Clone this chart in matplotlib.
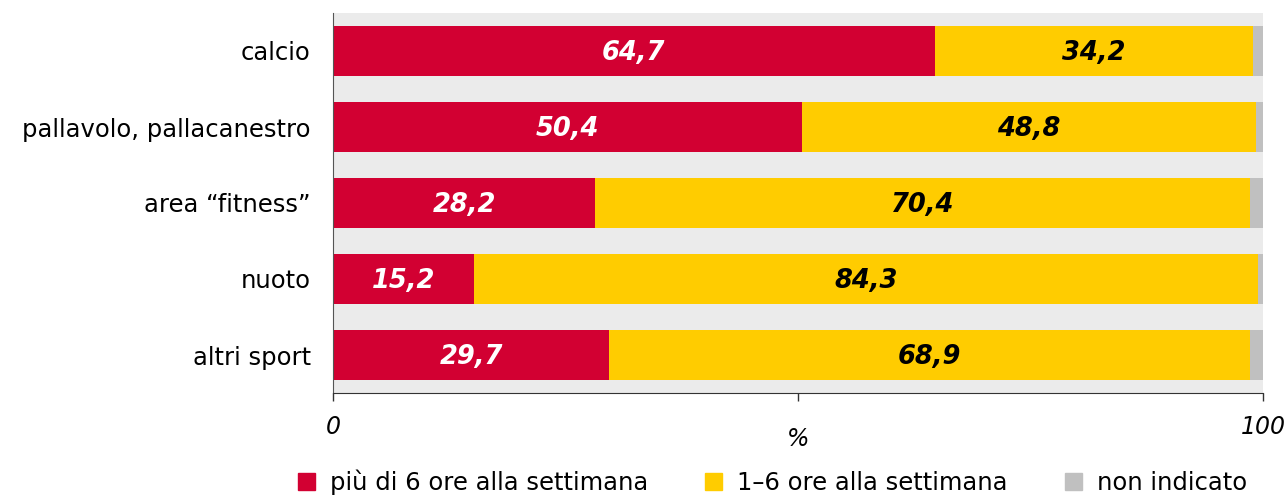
import matplotlib.pyplot as plt
from matplotlib.patches import Patch

# data (percent)
categories = ["calcio", "pallavolo, pallacanestro", "area \u201cfitness\u201d", "nuoto", "altri sport"]
over_6 = [64.7, 50.4, 28.2, 15.2, 29.7]
one_to_6 = [34.2, 48.8, 70.4, 84.3, 68.9]
not_given = [1.1, 0.8, 1.4, 0.5, 1.4]
series_names = ["più di 6 ore alla settimana", "1\u20136 ore alla settimana", "non indicato"]

RED = "#D20032"
YELLOW = "#FFCC00"
GREY = "#C0C0C0"

plt.rcParams['font.family'] = ['DejaVu Sans']

fig = plt.figure(figsize=(12.87, 4.97), dpi=100)
ax = fig.add_axes([333 / 1287, 104 / 497, 930 / 1287, 380 / 497])
ax.set_facecolor("#EBEBEB")

ypos = list(range(len(categories)))
h = 0.66
left2 = over_6
left3 = [a + b for a, b in zip(over_6, one_to_6)]
ax.barh(ypos, over_6, height=h, color=RED)
ax.barh(ypos, one_to_6, left=left2, height=h, color=YELLOW)
ax.barh(ypos, not_given, left=left3, height=h, color=GREY)

# value labels
for i in ypos:
    ax.text(over_6[i] / 2, i + 0.03, f"{over_6[i]:.1f}".replace(".", ","), color="white",
            ha="center", va="center", fontsize=18.5, fontweight="bold", fontstyle="italic")
    ax.text(over_6[i] + one_to_6[i] / 2, i + 0.03, f"{one_to_6[i]:.1f}".replace(".", ","), color="black",
            ha="center", va="center", fontsize=18.5, fontweight="bold", fontstyle="italic")

ax.set_xlim(0, 100)
ax.set_ylim(len(categories) - 0.5, -0.5)
ax.set_yticks(ypos)
ax.set_yticklabels(categories, fontsize=17.5)
ax.tick_params(axis="y", length=0, pad=16)

ax.set_xticks([0, 50, 100])
ax.set_xticklabels(["0", "", "100"], fontsize=17, fontstyle="italic")
ax.tick_params(axis="x", length=6, width=1, color="#333333", pad=10, direction="out")
ax.set_xlabel("%", fontsize=17, fontstyle="italic", labelpad=-9)

for s in ["top", "right"]:
    ax.spines[s].set_visible(False)
ax.spines["left"].set_color("#555555")
ax.spines["bottom"].set_color("#333333")

handles = [Patch(color=RED), Patch(color=YELLOW), Patch(color=GREY)]
fig.legend(handles, series_names, loc="center", bbox_to_anchor=(0.600, 0.030), ncol=3,
           frameon=False, fontsize=17.5, handlelength=0.7, handleheight=0.7, handletextpad=0.62,
           columnspacing=2.35)

fig.savefig("out.png", dpi=100)
